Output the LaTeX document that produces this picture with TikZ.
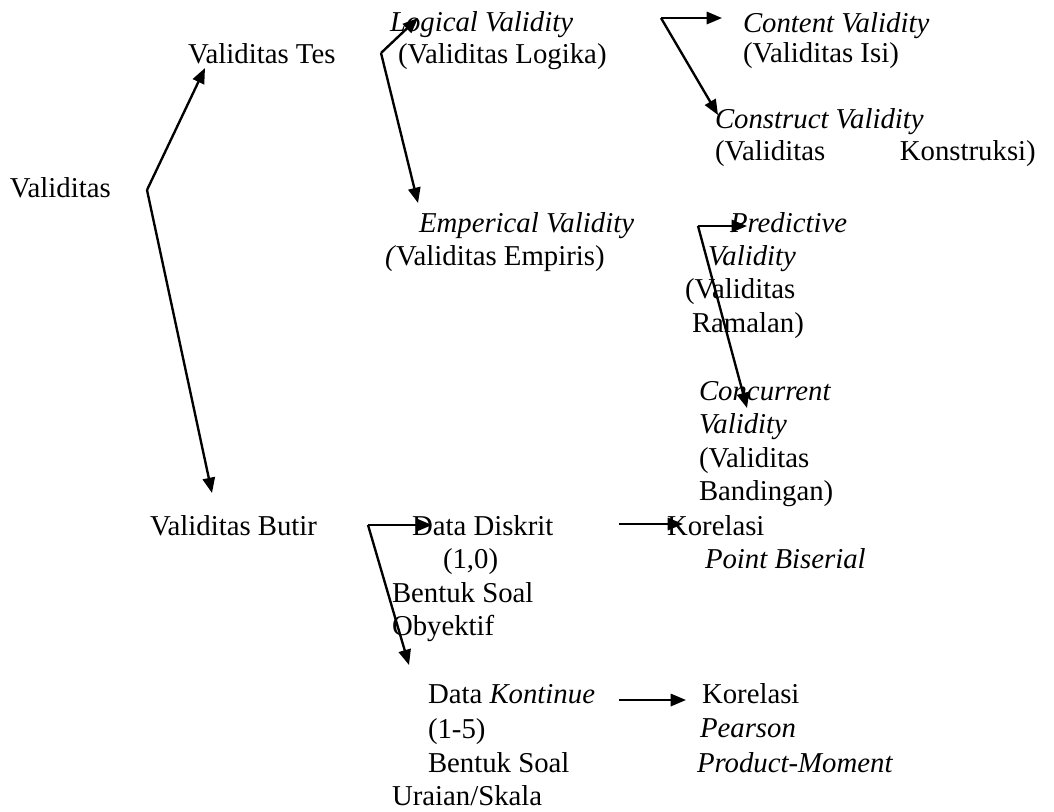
\documentclass[tikz,border=0pt]{standalone}
\usepackage{fontspec}
\setmainfont{Liberation Serif}
\usetikzlibrary{arrows.meta}
\begin{document}
\begin{tikzpicture}[x=0.424pt,y=-0.424pt,
  lbl/.style={anchor=base west,inner sep=0pt,outer sep=0pt,font=\fontsize{12.2}{14}\selectfont},
  conn/.style={line width=1pt,-{Triangle[length=6.5pt,width=5.2pt]}}]
\fill[white] (0,0) rectangle (1054,811);
\useasboundingbox (0,0) rectangle (1054,811);
% texts
\node[lbl] (val) at (10,197) {Validitas};
\node[lbl] (tes) at (188,63) {Validitas Tes};
\node[lbl] (log1) at (390,31) {\textit{Logical Validity}};
\node[lbl] (log2) at (398,63) {(Validitas Logika)};
\node[lbl] (con1) at (743,32) {\textit{Content Validity}};
\node[lbl] (con2) at (743,62) {(Validitas Isi)};
\node[lbl] (cst1) at (715,128) {\textit{Construct Validity}};
\node[lbl] (cst2) at (715,160) {\makebox[136pt][s]{(Validitas\hfill Konstruksi)}};
\node[lbl] (emp1) at (419,232) {\textit{Emperical Validity}};
\node[lbl] (emp2) at (385,265) {\textit{(}Validitas Empiris)};
\node[lbl] (pre1) at (730,232) {\textit{Predictive}};
\node[lbl] (pre2) at (708,265) {\textit{Validity}};
\node[lbl] (pre3) at (685,298) {(Validitas};
\node[lbl] (pre4) at (692,332) {Ramalan)};
\node[lbl] (cnc1) at (699,400) {\textit{Concurrent}};
\node[lbl] (cnc2) at (699,433) {\textit{Validity}};
\node[lbl] (cnc3) at (699,467) {(Validitas};
\node[lbl] (cnc4) at (699,500) {Bandingan)};
\node[lbl] (but) at (150,535) {Validitas Butir};
\node[lbl] (dis1) at (412,535) {Data Diskrit};
\node[lbl] (dis2) at (443,568) {(1,0)};
\node[lbl] (dis3) at (392,602) {Bentuk Soal};
\node[lbl] (dis4) at (392,635) {Obyektif};
\node[lbl] (kpb1) at (667,535) {Korelasi};
\node[lbl] (kpb2) at (705,568) {\textit{Point Biserial}};
\node[lbl] (kon1) at (428,703) {Data \textit{Kontinue}};
\node[lbl] (kon2) at (428,738) {(1-5)};
\node[lbl] (kon3) at (428,772) {Bentuk Soal};
\node[lbl] (kon4) at (392,805) {Uraian/Skala};
\node[lbl] (kpp1) at (702,703) {Korelasi};
\node[lbl] (kpp2) at (700,737) {\textit{Pearson}};
\node[lbl] (kpp3) at (697,772) {\textit{Product-Moment}};
% connector coordinates
\coordinate (bVal) at (147,190);
\coordinate (tTes) at (205,68);
\coordinate (tBut) at (212,493);
\coordinate (bTes) at (381,53);
\coordinate (tLog) at (418,18);
\coordinate (tEmp) at (418,203);
\coordinate (bLog) at (661,18);
\coordinate (tCon) at (722,18);
\coordinate (tCst) at (718,115);
\coordinate (bEmp) at (698,226);
\coordinate (tPre) at (747,226);
\coordinate (tCnc) at (747,408);
\coordinate (bBut) at (368,525);
\coordinate (tDis) at (432,525);
\coordinate (tKon) at (409,665);
\coordinate (sDis) at (619,524);
\coordinate (tKpb) at (683,524);
\coordinate (sKon) at (619,700);
\coordinate (tKpp) at (686,700);
% connectors
\draw[conn] (bVal) -- (tTes);
\draw[conn] (bVal) -- (tBut);
\draw[conn] (bTes) -- (tLog);
\draw[conn] (bTes) -- (tEmp);
\draw[conn] (bLog) -- (tCon);
\draw[conn] (bLog) -- (tCst);
\draw[conn] (bEmp) -- (tPre);
\draw[conn] (bEmp) -- (tCnc);
\draw[conn] (bBut) -- (tDis);
\draw[conn] (bBut) -- (tKon);
\draw[conn] (sDis) -- (tKpb);
\draw[conn] (sKon) -- (tKpp);
\end{tikzpicture}
\end{document}
